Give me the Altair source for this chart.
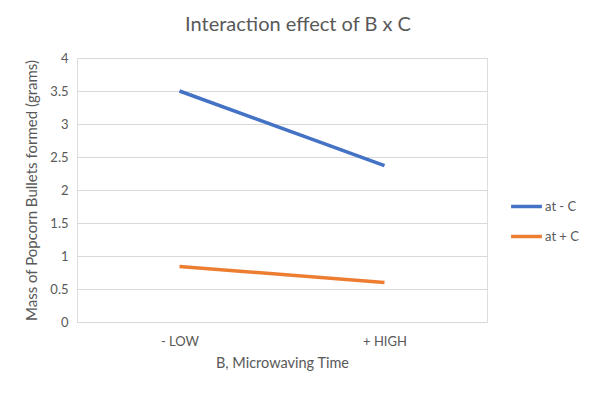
import altair as alt
import pandas as pd

levels = ["- LOW", "+ HIGH"]
series = ["at - C", "at + C"]
at_minus_c = [3.5, 2.37]
at_plus_c = [0.84, 0.60]
colors = ["#4472C4", "#ED7D31"]

rows = []
for lv, v in zip(levels, at_minus_c):
    rows.append({"B": lv, "series": series[0], "mass": v})
for lv, v in zip(levels, at_plus_c):
    rows.append({"B": lv, "series": series[1], "mass": v})
df = pd.DataFrame(rows)

font = "Lato"
grey = "#595959"

chart = alt.Chart(df).mark_line(strokeWidth=3.5).encode(
    x=alt.X("B:N", sort=levels, scale=alt.Scale(type="point", padding=0.5),
            axis=alt.Axis(title="B, Microwaving Time", labelAngle=0, domain=False, ticks=False,
                          grid=False, labelPadding=13, titlePadding=8, labelFontSize=13,
                          titleFontSize=14.5, labelColor=grey, titleColor=grey,
                          labelFont=font, titleFont=font, titleFontWeight="normal")),
    y=alt.Y("mass:Q", scale=alt.Scale(domain=[0, 4]),
            axis=alt.Axis(title="Mass of Popcorn Bullets formed (grams)", values=[0, 0.5, 1, 1.5, 2, 2.5, 3, 3.5, 4],
                          format="~g", domain=False, ticks=False, gridColor="#d9d9d9", labelPadding=9,
                          titlePadding=10, labelFontSize=13, titleFontSize=15, labelColor=grey,
                          titleColor=grey, labelFont=font, titleFont=font, titleFontWeight="normal")),
    color=alt.Color("series:N", sort=series, scale=alt.Scale(domain=series, range=colors),
                    legend=alt.Legend(title=None, orient="none", legendX=432, legendY=131,
                                      symbolType="stroke", symbolStrokeWidth=3.5, symbolSize=950,
                                      labelFontSize=13, labelColor=grey, labelFont=font,
                                      rowPadding=5, labelOffset=1)),
).properties(
    width=410, height=264,
    title=alt.TitleParams("Interaction effect of B x C", fontSize=20, font=font, color=grey,
                          fontWeight="normal", anchor="middle", offset=17, dx=16),
    autosize=alt.AutoSizeParams(type="none"),
    padding={"left": 69, "top": 50, "right": 98, "bottom": 63},
).configure_view(strokeWidth=0, stroke="transparent").configure_axisX(grid=False, domain=False).configure(background="white")

chart.save("out.html", embed_options={"renderer": "svg", "actions": False})
